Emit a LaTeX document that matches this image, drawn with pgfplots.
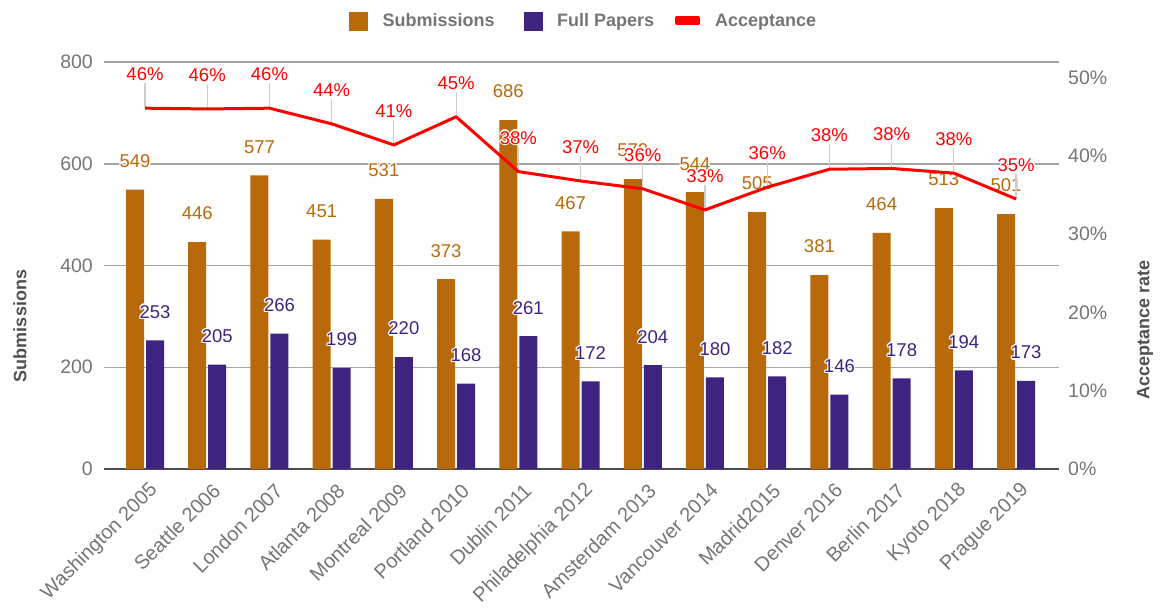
\documentclass[border=0pt]{standalone}
\usepackage{fontspec}
\setmainfont{Liberation Sans}
\usepackage{pgfplots}
\usepackage{pgfplotstable}
\pgfplotsset{compat=1.18}
\pgfplotsset{/pgf/number format/assume math mode=true}

\definecolor{subcol}{RGB}{184,106,10}
\definecolor{fullcol}{RGB}{62,36,128}
\definecolor{tickgray}{RGB}{117,117,117}
\definecolor{gridgray}{RGB}{165,165,165}
\definecolor{titlegray}{RGB}{80,80,80}
\definecolor{leadgray}{RGB}{205,205,205}

\newcommand{\px}[1]{\fontsize{#1}{#1}\selectfont}
% white outline behind a data label
\newcommand{\halo}[1]{%
  \makebox[0pt][l]{\color{white}\kern1.3pt#1}%
  \makebox[0pt][l]{\color{white}\kern-1.3pt#1}%
  \makebox[0pt][l]{\color{white}\raisebox{1.3pt}{#1}}%
  \makebox[0pt][l]{\color{white}\raisebox{-1.3pt}{#1}}%
  \makebox[0pt][l]{\color{white}\kern0.9pt\raisebox{0.9pt}{#1}}%
  \makebox[0pt][l]{\color{white}\kern-0.9pt\raisebox{0.9pt}{#1}}%
  \makebox[0pt][l]{\color{white}\kern0.9pt\raisebox{-0.9pt}{#1}}%
  \makebox[0pt][l]{\color{white}\kern-0.9pt\raisebox{-0.9pt}{#1}}%
  #1}

\pgfplotsset{
  sublegend/.style={legend image code/.code={\fill[subcol] (0pt,-9pt) rectangle (18pt,9pt);}},
  fulllegend/.style={legend image code/.code={\fill[fullcol] (0pt,-9pt) rectangle (18pt,9pt);}},
}

% submissions and full papers per conference
\pgfplotstableread{
x sub full
0 549 253
1 446 205
2 577 266
3 451 199
4 531 220
5 373 168
6 686 261
7 467 172
8 570 204
9 544 180
10 505 182
11 381 146
12 464 178
13 513 194
14 501 173
}\bars

% acceptance rate in percent, with its rounded label
\pgfplotstableread{
x rate lab
0 46.1 46
1 46.0 46
2 46.1 46
3 44.1 44
4 41.4 41
5 45.0 45
6 38.0 38
7 36.8 37
8 35.8 36
9 33.1 33
10 36.0 36
11 38.3 38
12 38.4 38
13 37.8 38
14 34.5 35
}\rate

\begin{document}
\begin{tikzpicture}
\begin{axis}[
  scale only axis, width=954.5pt, height=407pt,
  xmin=-0.651, xmax=14.69, ymin=0, ymax=800,
  ytick={0,200,...,800},
  xtick={0,...,14},
  xticklabels={Washington 2005, Seattle 2006, London 2007, Atlanta 2008, Montreal 2009, Portland 2010, Dublin 2011, Philadelphia 2012, Amsterdam 2013, Vancouver 2014, Madrid2015, Denver 2016, Berlin 2017, Kyoto 2018, Prague 2019},
  ybar=2pt, bar width=18pt,
  axis line style={draw=none},
  major tick style={draw=none},
  ymajorgrids, grid style={gridgray, line width=1.5pt},
  extra y ticks={0}, extra y tick labels={},
  extra y tick style={grid style={black!70, line width=2pt}},
  yticklabel style={anchor=east, inner sep=0pt, xshift=-11.5pt, font=\px{19.5}, text=tickgray},
  xticklabel style={rotate=45, anchor=east, inner sep=0pt, xshift=-3pt, yshift=-16.5pt, font=\px{20}, text=tickgray},
  ylabel={Submissions},
  ylabel style={at={(axis description cs:0,0)}, anchor=center, xshift=143pt, yshift=84.5pt, font=\bfseries\px{18}, text=titlegray},
  nodes near coords={\halo{\pgfmathprintnumber{\pgfplotspointmeta}}},
  every node near coord/.append style={font=\px{18.5}, inner sep=0pt, anchor=south, yshift=20.5pt},
]
\addplot[fill=subcol, draw=none, every node near coord/.append style={text=subcol}] table[x=x, y=sub] {\bars};
\addplot[fill=fullcol, draw=none, every node near coord/.append style={text=fullcol}] table[x=x, y=full] {\bars};
\end{axis}

\begin{axis}[
  scale only axis, width=954.5pt, height=407pt,
  xmin=-0.651, xmax=14.69, ymin=0, ymax=52,
  axis x line=none,
  axis y line*=right,
  axis line style={draw=none},
  major tick style={draw=none},
  ytick={0,10,...,50},
  yticklabel={\pgfmathprintnumber{\tick}\%},
  yticklabel style={anchor=west, inner sep=0pt, xshift=9pt, font=\px{19.5}, text=tickgray},
  ylabel={Acceptance rate},
  ylabel style={at={(axis description cs:1,0)}, anchor=center, xshift=139pt, yshift=-86pt, font=\bfseries\px{18}, text=titlegray},
  legend columns=3,
  legend style={at={(axis description cs:0.5,1)}, anchor=center, xshift=2pt, yshift=41pt,
    draw=none, fill=none, inner sep=0pt,
    font=\bfseries\px{18}, text=tickgray,
    /tikz/every odd column/.append style={column sep=13pt},
    /tikz/every even column/.append style={column sep=27pt}},
  legend cell align=left,
]
\addlegendimage{sublegend}
\addlegendentry{Submissions}
\addlegendimage{fulllegend}
\addlegendentry{Full Papers}
% leader lines from each point up to its label
\addplot[draw=none, mark=none, forget plot,
  error bars/.cd, y dir=plus, y fixed=3.2, error mark=none,
  error bar style={draw=leadgray, line width=1.2pt}]
  table[x=x, y=rate] {\rate};
\addplot[red, line width=3pt, line join=round, mark=none,
  legend image code/.code={\path (0pt,-3pt) rectangle (14pt,3pt);
    \fill[red, overlay] (-8pt,-3pt) rectangle (14pt,3pt);},
  point meta=explicit symbolic,
  nodes near coords={\halo{\pgfplotspointmeta\%}},
  every node near coord/.append style={font=\px{18.5}, text=red, inner sep=0pt, anchor=south, yshift=24.5pt}]
  table[x=x, y=rate, meta=lab] {\rate};
\addlegendentry{Acceptance}
\end{axis}
\pgfresetboundingbox
\path[use as bounding box] (-104.5pt,-139pt) rectangle (1058.5pt,469pt);
\end{tikzpicture}
\end{document}
